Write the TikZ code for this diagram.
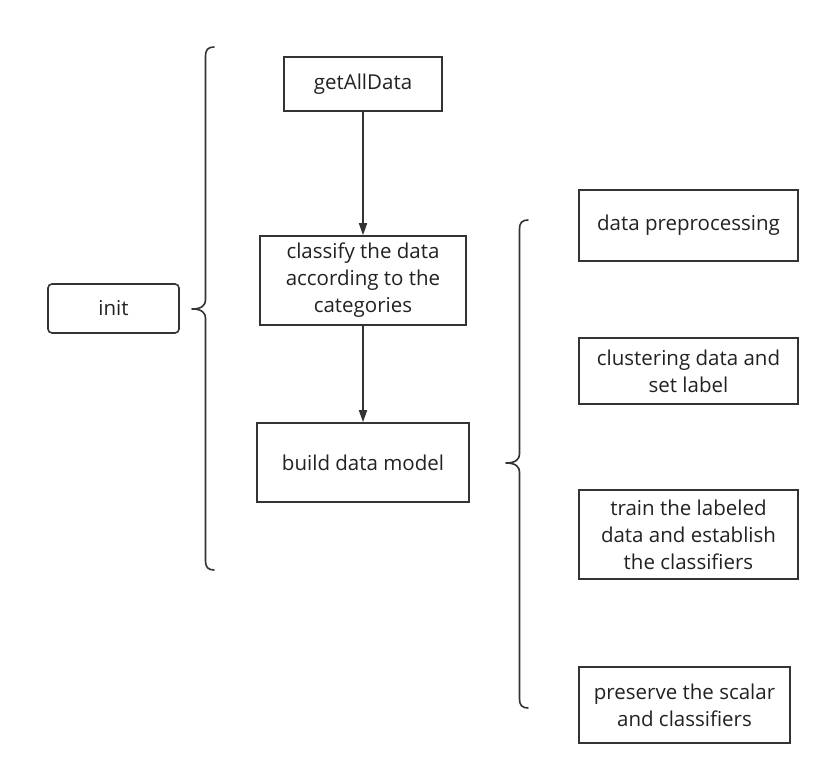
\documentclass[tikz,border=0pt]{standalone}
\usepackage{fontspec}
\setmainfont{Open Sans}
\usetikzlibrary{arrows.meta}
\definecolor{ink}{HTML}{333333}
\definecolor{txt}{HTML}{222222}
\begin{document}
\begin{tikzpicture}[x=1pt,y=-1pt,
  box/.style={draw=ink,line width=1.6pt,align=center,text=txt,font=\fontsize{20.5}{27}\selectfont,inner sep=0pt},
  arr/.style={draw=ink,line width=1.6pt,-{Triangle[length=12pt,width=8pt]}},
  brace/.style={draw=ink,line width=1.6pt,line cap=round,line join=round}]
\useasboundingbox[fill=white] (0,0) rectangle (830,775);
\node[box,rounded corners=4pt,minimum width=131pt,minimum height=49pt] (init) at (113.5,308.5) {init};
\node[box,minimum width=158pt,minimum height=54pt] (get) at (363,84) {getAllData};
\node[box,minimum width=206pt,minimum height=89pt] (cls) at (363,280.5) {classify the data\\according to the\\categories};
\node[box,minimum width=212pt,minimum height=79pt] (build) at (363,462.5) {build data model};
\node[box,minimum width=219pt,minimum height=71pt] (pre) at (688.5,225.5) {data preprocessing};
\node[box,minimum width=219pt,minimum height=66pt] (clu) at (688.5,371) {clustering data and\\set label};
\node[box,minimum width=219pt,minimum height=89pt] (train) at (688.5,534.5) {train the labeled\\data and establish\\the classifiers};
\node[box,minimum width=211pt,minimum height=76pt] (pres) at (684.5,705) {preserve the scalar\\and classifiers};
\draw[arr] (get.south) -- (cls.north);
\draw[arr] (cls.south) -- (build.north);
% left brace
\coordinate (lt) at (214,47);
\coordinate (lb) at (214,570);
\coordinate (ltip) at (192,309);
\draw[brace] (lt) .. controls (208,47) and (205.5,50) .. (205.5,56) -- (205.5,300)
  .. controls (205.5,305) and (202,309) .. (ltip)
  .. controls (202,309) and (205.5,313) .. (205.5,318) -- (205.5,561)
  .. controls (205.5,567) and (208,570) .. (lb);
% right brace
\coordinate (rt) at (528,220);
\coordinate (rb) at (528,708);
\coordinate (rtip) at (506,463);
\draw[brace] (rt) .. controls (522,220) and (519.5,223) .. (519.5,229) -- (519.5,454)
  .. controls (519.5,459) and (516,463) .. (rtip)
  .. controls (516,463) and (519.5,467) .. (519.5,472) -- (519.5,699)
  .. controls (519.5,705) and (522,708) .. (rb);
\end{tikzpicture}
\end{document}
